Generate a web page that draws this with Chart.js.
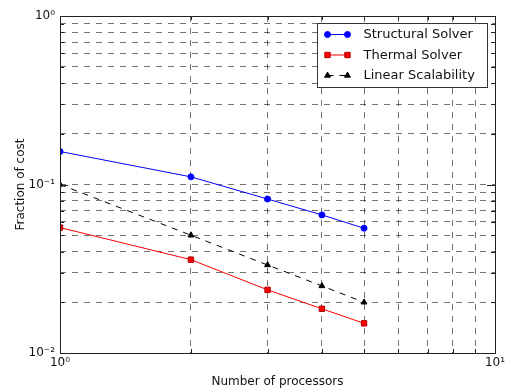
<!DOCTYPE html>
<html>
<head>
<meta charset="utf-8">
<script src="https://cdn.jsdelivr.net/npm/chart.js@4/dist/chart.umd.min.js"></script>
<style>
  html, body { margin: 0; padding: 0; background: #fff; }
  #wrap { width: 506px; height: 389px; }
</style>
</head>
<body>
<div id="wrap"><canvas id="cost"></canvas></div>
<script>
var processors = [1, 2, 3, 4, 5];
var structuralCost = [0.157, 0.111, 0.082, 0.066, 0.055];
var thermalCost = [0.0555, 0.0358, 0.0237, 0.0183, 0.015];
var linearCost = [0.1, 0.05, 0.0333, 0.025, 0.02];
var seriesNames = ["Structural Solver", "Thermal Solver", "Linear Scalability"];
var xTicks = [1, 2, 3, 4, 5, 6, 7, 8, 9, 10];
var yTicks = [0.01, 0.02, 0.03, 0.04, 0.05, 0.06, 0.07, 0.08, 0.09,
              0.1, 0.2, 0.3, 0.4, 0.5, 0.6, 0.7, 0.8, 0.9, 1];

Chart.defaults.font.family = "'DejaVu Sans', sans-serif";
Chart.defaults.color = "#111";

function pts(ys) {
  return processors.map(function (p, i) { return { x: p, y: ys[i] }; });
}

var supMap = { "-": "\u207b", "0": "\u2070", "1": "\u00b9", "2": "\u00b2", "3": "\u00b3" };
function powLabel(v) {
  var e = Math.log10(v);
  var r = Math.round(e);
  if (Math.abs(e - r) > 1e-6) return "";
  return "10" + String(r).split("").map(function (c) { return supMap[c] || c; }).join("");
}

function fixedTicks(list) {
  return function (s) { s.ticks = list.map(function (v) { return { value: v }; }); };
}

// box around the plot with inward tick marks
var frame = {
  id: "frame",
  afterDatasetsDraw: function (chart) {
    var ctx = chart.ctx, a = chart.chartArea;
    var xs = chart.scales.x, ys = chart.scales.y;
    ctx.save();
    ctx.strokeStyle = "#222";
    ctx.lineWidth = 1;
    ctx.setLineDash([]);
    ctx.beginPath();
    xs.ticks.forEach(function (t) {
      var px = Math.round(xs.getPixelForValue(t.value)) + 0.5;
      var len = powLabel(t.value) ? 8 : 4;
      ctx.moveTo(px, a.bottom); ctx.lineTo(px, a.bottom - len);
      ctx.moveTo(px, a.top); ctx.lineTo(px, a.top + len);
    });
    ys.ticks.forEach(function (t) {
      var py = Math.round(ys.getPixelForValue(t.value)) + 0.5;
      var len = powLabel(t.value) ? 8 : 4;
      ctx.moveTo(a.left, py); ctx.lineTo(a.left + len, py);
      ctx.moveTo(a.right, py); ctx.lineTo(a.right - len, py);
    });
    ctx.stroke();
    ctx.strokeRect(Math.round(a.left) + 0.5, Math.round(a.top) + 0.5,
      Math.round(a.right - a.left), Math.round(a.bottom - a.top));
    ctx.restore();
  }
};

// legend box in the upper right, two markers per handle
var legendBox = {
  id: "legendBox",
  afterDraw: function (chart) {
    var ctx = chart.ctx, a = chart.chartArea;
    var w = 170, h = 64;
    var x0 = Math.round(a.right - 8 - w) + 0.5, y0 = Math.round(a.top + 7) + 0.5;
    ctx.save();
    ctx.fillStyle = "#fff";
    ctx.fillRect(x0, y0, w, h);
    ctx.strokeStyle = "#333";
    ctx.lineWidth = 1;
    ctx.strokeRect(x0, y0, w, h);
    ctx.font = "13px 'DejaVu Sans', sans-serif";
    ctx.textBaseline = "middle";
    chart.data.datasets.forEach(function (ds, i) {
      var y = y0 + 11 + i * 20.5;
      var hx1 = x0 + 10, hx2 = x0 + 30;
      ctx.strokeStyle = ds.borderColor;
      ctx.lineWidth = ds.borderWidth;
      ctx.setLineDash(ds.borderDash || []);
      ctx.beginPath();
      ctx.moveTo(hx1, y); ctx.lineTo(hx2, y);
      ctx.stroke();
      ctx.setLineDash([]);
      var style = { pointStyle: ds.pointStyle, radius: ds.pointRadius, borderWidth: 1 };
      ctx.fillStyle = ds.pointBackgroundColor;
      ctx.strokeStyle = ds.pointBorderColor;
      Chart.helpers.drawPoint(ctx, style, hx1, y);
      Chart.helpers.drawPoint(ctx, style, hx2, y);
      ctx.fillStyle = "#111";
      ctx.fillText(ds.label, x0 + 46, y + 0.5);
    });
    ctx.restore();
  }
};

var gridStyle = { color: "rgba(0,0,0,0.55)", lineWidth: 1, drawTicks: false };
var dashStyle = { display: false, dash: [6, 6] };

new Chart(document.getElementById("cost"), {
  type: "line",
  data: {
    datasets: [{
      label: seriesNames[0],
      data: pts(structuralCost),
      borderColor: "#0000ff",
      backgroundColor: "#0000ff",
      pointBackgroundColor: "#0000ff",
      pointBorderColor: "#0000ff",
      borderWidth: 1,
      pointStyle: "circle",
      pointRadius: 3
    }, {
      label: seriesNames[1],
      data: pts(thermalCost),
      borderColor: "#ff0000",
      backgroundColor: "#ff0000",
      pointBackgroundColor: "#ff0000",
      pointBorderColor: "#b00000",
      borderWidth: 1,
      pointStyle: "rect",
      pointRadius: 3.8
    }, {
      label: seriesNames[2],
      data: pts(linearCost),
      borderColor: "#000",
      backgroundColor: "#000",
      pointBackgroundColor: "#000",
      pointBorderColor: "#000",
      borderWidth: 1,
      borderDash: [6, 6],
      pointStyle: "triangle",
      pointRadius: 3.4
    }]
  },
  options: {
    responsive: true,
    maintainAspectRatio: false,
    animation: false,
    layout: { padding: { top: 16, right: 11, left: 0, bottom: 0 } },
    plugins: { legend: { display: false }, tooltip: { enabled: false } },
    elements: { line: { tension: 0 } },
    scales: {
      x: {
        type: "logarithmic",
        min: 1,
        max: 10,
        grid: gridStyle,
        border: dashStyle,
        afterBuildTicks: fixedTicks(xTicks),
        ticks: { autoSkip: false, maxRotation: 0, padding: 3, font: { size: 12 }, callback: powLabel },
        title: { display: true, text: "Number of processors", font: { size: 12 }, padding: { top: 0, bottom: 0 } },
        afterFit: function (s) { s.height = 36; s.paddingLeft = 0; s.paddingRight = 0; }
      },
      y: {
        type: "logarithmic",
        min: 0.01,
        max: 1,
        grid: gridStyle,
        border: dashStyle,
        afterBuildTicks: fixedTicks(yTicks),
        ticks: { autoSkip: false, padding: 5, font: { size: 12 }, callback: powLabel },
        title: { display: true, text: "Fraction of cost", font: { size: 12 }, padding: { top: 14, bottom: 0 } },
        afterFit: function (s) { s.width = 60; s.paddingTop = 0; s.paddingBottom = 0; }
      }
    }
  },
  plugins: [frame, legendBox]
});
</script>
</body>
</html>
